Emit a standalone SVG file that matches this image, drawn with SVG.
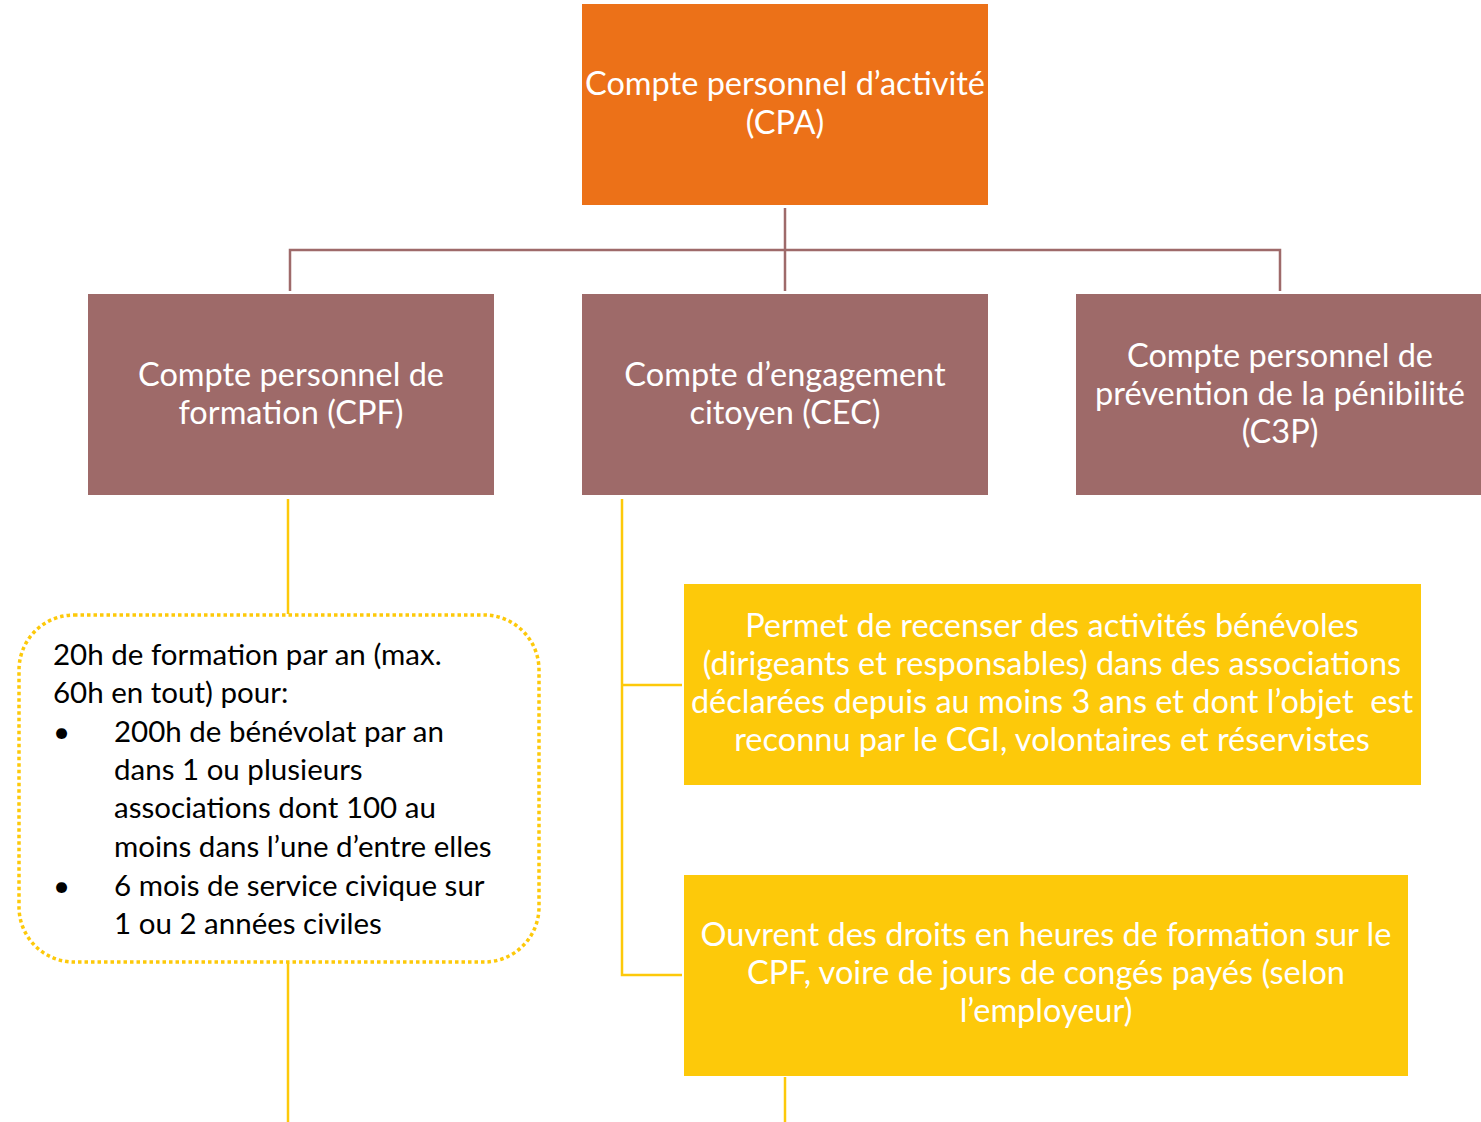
<svg xmlns="http://www.w3.org/2000/svg" width="1481" height="1122" viewBox="0 0 1481 1122">
<style>
.t{font-family:Lato,"Open Sans","DejaVu Sans",sans-serif;fill:#fff;font-size:32.5px;text-anchor:middle;white-space:pre}
.b{font-family:Lato,"Open Sans","DejaVu Sans",sans-serif;fill:#000;font-size:29.5px}
.cm{stroke:#9E6A6A;stroke-width:2.5;fill:none}
.cy{stroke:#FDC90A;stroke-width:2.5;fill:none}
</style>
<rect width="1481" height="1122" fill="#fff"/>
<g id="connectors">
<path class="cm" d="M785 208V291M290 291V250H1280V291"/>
<path class="cy" d="M288 499V614M288 963V1122"/>
<path class="cy" d="M622 499V975H682M622 685H682"/>
<path class="cy" d="M785 1077V1122"/>
</g>
<g id="cpa">
<rect x="582" y="4" width="406" height="201" fill="#EC7118"/>
<text class="t" x="785" y="95">Compte personnel d’activité</text>
<text class="t" x="785" y="134">(CPA)</text>
</g>
<g id="cpf">
<rect x="88" y="294" width="406" height="201" fill="#9E6A69"/>
<text class="t" x="291" y="386">Compte personnel de</text>
<text class="t" x="291" y="424">formation (CPF)</text>
</g>
<g id="cec">
<rect x="582" y="294" width="406" height="201" fill="#9E6A69"/>
<text class="t" x="785" y="386">Compte d’engagement</text>
<text class="t" x="785" y="424">citoyen (CEC)</text>
</g>
<g id="c3p">
<rect x="1076" y="294" width="406" height="201" fill="#9E6A69"/>
<text class="t" x="1280" y="367">Compte personnel de</text>
<text class="t" x="1280" y="405">prévention de la pénibilité</text>
<text class="t" x="1280" y="443">(C3P)</text>
</g>
<g id="cpf-detail">
<rect x="19" y="615" width="520" height="347" rx="55" fill="none" stroke="#FDC90A" stroke-width="3.5" stroke-dasharray="3.5 3"/>
<text class="b" x="53" y="665">20h de formation par an (max.</text>
<text class="b" x="53" y="703">60h en tout) pour:</text>
<text class="b" x="53" y="742">•</text>
<text class="b" x="114" y="742">200h de bénévolat par an</text>
<text class="b" x="114" y="780">dans 1 ou plusieurs</text>
<text class="b" x="114" y="818">associations dont 100 au</text>
<text class="b" x="114" y="857">moins dans l’une d’entre elles</text>
<text class="b" x="53" y="896">•</text>
<text class="b" x="114" y="896">6 mois de service civique sur</text>
<text class="b" x="114" y="934">1 ou 2 années civiles</text>
</g>
<g id="cec-detail1">
<rect x="684" y="584" width="737" height="201" fill="#FDC90A"/>
<text class="t" x="1052" y="637">Permet de recenser des activités bénévoles</text>
<text class="t" x="1052" y="675">(dirigeants et responsables) dans des associations</text>
<text class="t" x="1052" y="713">déclarées depuis au moins 3 ans et dont l’objet  est</text>
<text class="t" x="1052" y="751">reconnu par le CGI, volontaires et réservistes</text>
</g>
<g id="cec-detail2">
<rect x="684" y="875" width="724" height="201" fill="#FDC90A"/>
<text class="t" x="1046" y="946">Ouvrent des droits en heures de formation sur le</text>
<text class="t" x="1046" y="984">CPF, voire de jours de congés payés (selon</text>
<text class="t" x="1046" y="1022">l’employeur)</text>
</g>
</svg>
